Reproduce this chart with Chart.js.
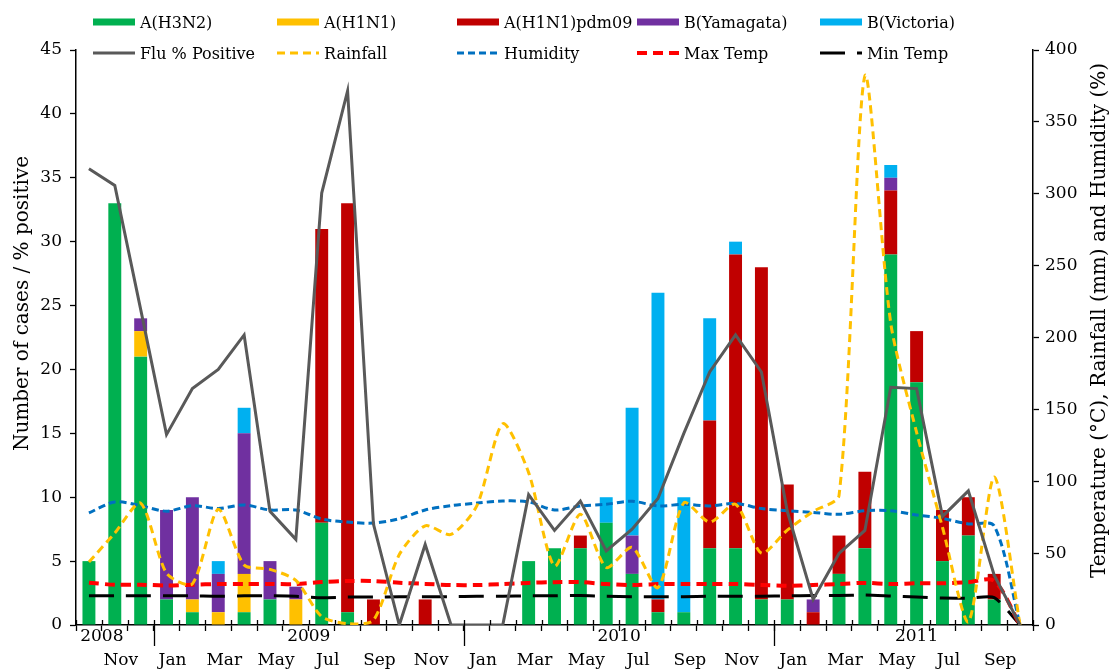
<!DOCTYPE html>
<html><head><meta charset="utf-8">
<script src="https://cdn.jsdelivr.net/npm/chart.js@4.4.0/dist/chart.umd.min.js"></script>
<style>
html,body{margin:0;padding:0;background:#fff;}
#wrap{position:relative;width:1114px;height:671px;overflow:hidden;}
#c{position:absolute;left:0;top:0;}
#legend{position:absolute;left:0;top:0;width:1114px;height:70px;font-family:'DejaVu Serif';font-size:16px;color:#000;pointer-events:none;}
.item{position:absolute;display:flex;align-items:center;white-space:nowrap;height:20px;}
.item svg{margin-right:5px;}
</style></head><body>
<div id="wrap"><canvas id="c" width="1114" height="671"></canvas><div id="legend"></div></div>
<script>
// ---- data ----
const categories = ['Oct','Nov','Dec','Jan','Feb','Mar','Apr','May','Jun','Jul','Aug','Sep',
                    'Oct','Nov','Dec','Jan','Feb','Mar','Apr','May','Jun','Jul','Aug','Sep',
                    'Oct','Nov','Dec','Jan','Feb','Mar','Apr','May','Jun','Jul','Aug','Sep','Oct'];
const yearLabels = ['2008','2009','2010','2011'];
const leftTicks = [0,5,10,15,20,25,30,35,40,45];
const rightTicks = [0,50,100,150,200,250,300,350,400];

const h3n2     = [5,33,21,2,1,0,1,2,0,8, 1,0,0,0,0,0,0,5,6,6, 8,4,1,1,6,6,2,2,0,4, 6,29,19,5,7,2,0];
const h1n1     = [0,0,2,0,1,1,3,0,2,0, 0,0,0,0,0,0,0,0,0,0, 0,0,0,0,0,0,0,0,0,0, 0,0,0,0,0,0,0];
const pdm09    = [0,0,0,0,0,0,0,0,0,23, 32,2,0,2,0,0,0,0,0,1, 0,0,1,0,10,23,26,9,1,3, 6,5,4,4,3,2,0];
const yamagata = [0,0,1,7,8,3,11,3,1,0, 0,0,0,0,0,0,0,0,0,0, 0,3,0,0,0,0,0,0,1,0, 0,1,0,0,0,0,0];
const victoria = [0,0,0,0,0,1,2,0,0,0, 0,0,0,0,0,0,0,0,0,0, 2,10,24,9,8,1,0,0,0,0, 0,1,0,0,0,0,0];

const fluPositive = [35.7,34.4,24.7,14.9,18.5,20.0,22.7,8.9,6.7,33.8, 41.8,7.9,0,6.3,0,0,0,10.2,7.4,9.7, 5.8,7.5,9.9,15.0,19.8,22.7,19.8,8.9,2.0,5.6, 7.4,18.6,18.5,8.5,10.5,3.9,0];
const rainfall    = [43.8,64,84.8,36,28.6,80.5,41.8,38.7,31,5.8, 1,3.3,49,69,63,83,140,106,41,77, 40,54,26,85,71.5,84,50,66,79,90, 382,210,134,68,2,103,0];
const humidity    = [78,85.6,83,79.2,83,81,83.5,80,80,73.7, 71.6,70.9,74,80,83,84.8,86.3,85.6,80,82.8, 84,86.1,82.8,84,82.8,84.6,81,79.5,78.3,77, 79.5,79.5,76.5,74.2,70.3,68.9,0];
const maxTemp     = [29.4,28.0,28.0,27.5,28.0,28.5,28.5,28.5,28.5,29.9, 30.6,30.6,29.4,28.6,27.8,27.8,28.5,29.3,29.8,29.8, 28.5,27.8,28.5,28.5,28.5,28.5,27.8,27.3,27.8,28.5, 29.3,28.5,29.0,29.0,29.8,30.6,0];
const minTemp     = [20.3,20.3,20.3,20.3,20.3,20.0,20.3,20.3,20.0,19.0, 19.4,19.4,19.7,19.7,19.7,20.0,20.0,20.3,20.3,20.5, 20.0,19.7,19.7,19.7,20.0,20.0,20.0,20.3,20.5,20.5, 20.9,20.2,19.5,18.8,18.6,19.1,0];

const leftTitle = 'Number of cases / % positive';
const rightTitle = 'Temperature (\u00B0C), Rainfall (mm) and Humidity (%)';

// ---- chart ----
const FONT = 'DejaVu Serif';
Chart.defaults.font.family = FONT;
Chart.defaults.color = '#000';

function bar(label, data, color) {
  return {type:'bar', label, data, backgroundColor:color, borderWidth:0,
          stack:'cases', yAxisID:'y', order:10, barPercentage:0.5, categoryPercentage:1.0};
}
function line(label, data, color, width, dash, axis, tension, order) {
  return {type:'line', label, data, borderColor:color, backgroundColor:color, borderWidth:width,
          borderDash:dash, yAxisID:axis, stack:label, pointRadius:0, tension, fill:false, order};
}

const datasets = [
  bar('A(H3N2)', h3n2, '#00B050'),
  bar('A(H1N1)', h1n1, '#FFC000'),
  bar('A(H1N1)pdm09', pdm09, '#C00000'),
  bar('B(Yamagata)', yamagata, '#7030A0'),
  bar('B(Victoria)', victoria, '#00B0F0'),
  line('Flu % Positive', fluPositive, '#595959', 3, [], 'y', 0, 1),
  line('Rainfall', rainfall, '#FFC000', 3, [8,5], 'y1', 0.25, 2),
  line('Humidity', humidity, '#0070C0', 3, [7,4], 'y1', 0.3, 3),
  line('Max Temp', maxTemp, '#FF0000', 4, [10,6], 'y1', 0.3, 4),
  line('Min Temp', minTemp, '#000000', 3, [25,12], 'y1', 0.2, 5)
];

const extras = {
  id:'extras',
  afterDraw(chart) {
    const {ctx} = chart;
    const x = chart.scales.x, y = chart.scales.y, y1 = chart.scales.y1;
    const n = chart.data.labels.length;
    ctx.save();
    ctx.strokeStyle = '#000';
    ctx.lineWidth = 1.3;
    // inner half of crossing tick marks
    ctx.beginPath();
    for (let k = 0; k <= n; k++) {
      const px = Math.round(x.getPixelForValue(k - 0.5)) + 0.5;
      ctx.moveTo(px, x.top - 5); ctx.lineTo(px, x.top);
    }
    // long year-separator ticks
    [3, 15, 27].forEach(k => {
      const px = Math.round(x.getPixelForValue(k - 0.5)) + 0.5;
      ctx.moveTo(px, x.top); ctx.lineTo(px, x.top + 21);
    });
    ctx.stroke();
    // year labels
    ctx.fillStyle = '#000';
    ctx.font = '17px "' + FONT + '"';
    ctx.textAlign = 'center';
    ctx.textBaseline = 'middle';
    const yearPos = [0.5, 8.5, 20.5, 32];
    yearLabels.forEach((t, i) => ctx.fillText(t, x.getPixelForValue(yearPos[i]), x.top + 12));
    // axis titles (both read bottom to top)
    ctx.font = '20px "' + FONT + '"';
    ctx.save();
    ctx.translate(23, (y.top + y.bottom) / 2 - 34);
    ctx.rotate(-Math.PI / 2);
    ctx.fillText(leftTitle, 0, 0);
    ctx.restore();
    ctx.save();
    ctx.translate(1100, (y1.top + y1.bottom) / 2 - 17);
    ctx.rotate(-Math.PI / 2);
    ctx.fillText(rightTitle, 0, 0);
    ctx.restore();
    ctx.restore();
  }
};

const chart = new Chart(document.getElementById('c'), {
  data: {labels: categories, datasets},
  options: {
    responsive:false, animation:false,
    layout:{padding:{top:50, left:0, right:0, bottom:0}},
    plugins:{legend:{display:false}, tooltip:{enabled:false}},
    scales:{
      x:{type:'category', stacked:true, offset:true,
         grid:{offset:true, drawOnChartArea:false, color:'#000', tickLength:6, tickWidth:1.3},
         border:{color:'#000', width:1.5},
         ticks:{autoSkip:false, maxRotation:0, minRotation:0, padding:19, labelOffset:6,
                font:{size:17}, color:'#000',
                callback:(v, i) => (i % 2 === 1 ? categories[i] : '')},
         afterFit:s => { s.height = 46; }},
      y:{position:'left', stacked:true, min:0, max:45,
         afterBuildTicks:s => { s.ticks = leftTicks.map(v => ({value:v})); },
         grid:{drawOnChartArea:false, color:'#000', tickLength:6, tickWidth:1.3},
         border:{color:'#000', width:1.5},
         ticks:{padding:8, font:{size:17}, color:'#000'},
         afterFit:s => { s.width = 76; }},
      y1:{position:'right', min:0, max:400,
         afterBuildTicks:s => { s.ticks = rightTicks.map(v => ({value:v})); },
         grid:{drawOnChartArea:false, color:'#000', tickLength:6, tickWidth:1.3},
         border:{color:'#000', width:1.5},
         ticks:{padding:6, font:{size:17}, color:'#000'},
         afterFit:s => { s.width = 81; }}
    }
  },
  plugins:[extras]
});

// ---- HTML legend built from the datasets ----
const legend = document.getElementById('legend');
const colX = [93, 277, 457, 637, 820];
const rowY = [22, 53];
chart.data.datasets.forEach((ds, i) => {
  const row = ds.type === 'bar' ? 0 : 1;
  const col = ds.type === 'bar' ? i : i - 5;
  const div = document.createElement('div');
  div.className = 'item';
  div.style.left = colX[col] + 'px';
  div.style.top = (rowY[row] - 10) + 'px';
  let sw;
  if (ds.type === 'bar') {
    sw = '<svg width="42" height="20"><rect x="0" y="6.5" width="42" height="7" fill="' + ds.backgroundColor + '"/></svg>';
  } else {
    const dash = ds.borderDash && ds.borderDash.length ? ' stroke-dasharray="' + ds.borderDash.join(',') + '"' : '';
    sw = '<svg width="42" height="20"><line x1="0" y1="10" x2="42" y2="10" stroke="' + ds.borderColor +
         '" stroke-width="' + ds.borderWidth + '"' + dash + '/></svg>';
  }
  div.innerHTML = sw + '<span></span>';
  div.querySelector('span').textContent = ds.label;
  legend.appendChild(div);
});
</script>
</body></html>
